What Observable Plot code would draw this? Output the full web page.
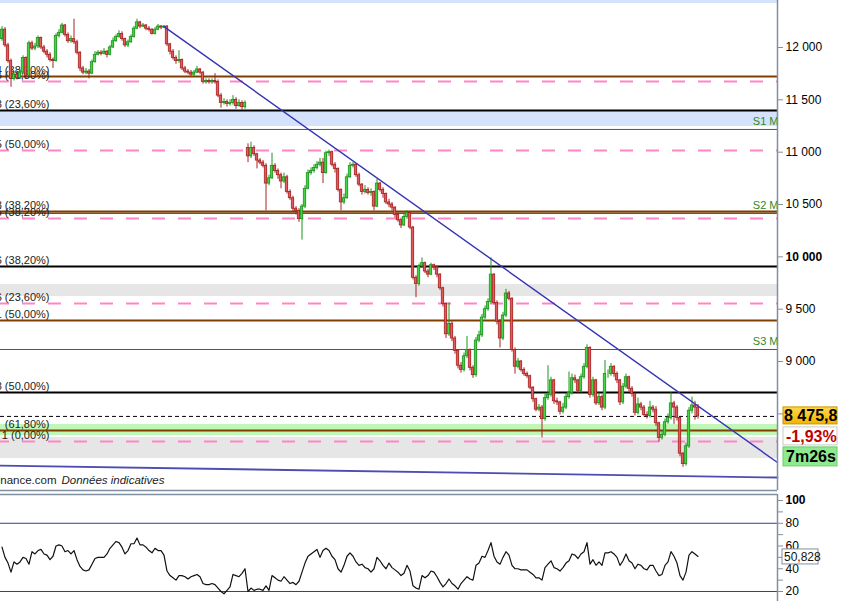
<!DOCTYPE html>
<html><head><meta charset="utf-8">
<script src="https://cdn.jsdelivr.net/npm/d3@7"></script>
<script src="https://cdn.jsdelivr.net/npm/@observablehq/plot@0.6"></script>
<style>
html,body{margin:0;padding:0;background:#fff;overflow:hidden}
#wrap{position:relative;width:843px;height:601px;overflow:hidden;background:#fff}
#wrap svg{display:block}
</style></head><body><div id="wrap"></div>
<script>
// ---- candle data (one candle per slot, open = previous close unless listed) ----
const closes = [
12170,12020,11870,11700,11740,11710,11760,11900,11730,12040,
11990,12010,12090,12000,11960,11930,11880,11870,12110,12140,
12210,12120,12060,12080,12050,11950,11800,11760,11770,11750,
11860,11930,11950,11940,11960,11930,12000,12060,12100,12130,
12080,12020,12050,12100,12180,12240,12200,12210,12180,12170,
12130,12170,12200,12190,12200,12030,11960,11900,11870,11880,
11800,11770,11760,11740,11760,11790,11760,11670,11680,11670,
11680,11670,11540,11470,11480,11460,11470,11500,11440,11470,
11430,11470,10960,11040,10980,10920,10900,10870,10700,10750,
10870,10820,10780,10720,10760,10620,10560,10460,10440,10360,
10480,10650,10800,10820,10850,10880,10900,10800,10990,11000,
10880,10840,10640,10520,10560,10760,10870,10880,10780,10690,
10620,10640,10610,10620,10480,10700,10640,10600,10520,10500,
10470,10400,10350,10300,10380,10420,10280,9800,9740,9910,
9940,9860,9830,9920,9900,9830,9700,9550,9260,9360,
9220,9100,8960,8920,9050,9110,8940,8870,9200,9250,
9420,9500,9570,9830,9560,9380,9220,9440,9650,9600,
9110,8950,9000,8920,8880,8860,8750,8640,8540,8560,
8450,8650,8680,8820,8620,8610,8520,8560,8660,8700,
8840,8820,8720,8850,8950,9130,8680,8820,8600,8660,
8560,8880,8880,8950,8880,8820,8610,8760,8850,8740,
8690,8510,8590,8560,8490,8480,8560,8540,8410,8270,
8300,8420,8460,8600,8560,8460,8120,8020,8190,8530,
8580,8560,8475.8];
const highs = [
12200,12190,12040,11890,11770,11760,11790,11920,11910,12060,
12060,12040,12110,12100,12020,11980,11950,11900,12130,12170,
12230,12220,12140,12110,12270,12070,11960,11820,11800,11790,
11880,11960,11970,11970,11990,11970,12020,12090,12120,12160,
12150,12090,12070,12120,12200,12270,12250,12230,12220,12200,
12180,12190,12220,12210,12210,12210,12040,11980,11920,11970,
11890,11820,11790,11780,11780,11820,11800,11770,11700,11700,
11700,11750,11690,11560,11510,11500,11500,11540,11520,11500,
11490,11490,11080,11095,11060,10990,10940,10920,10890,10780,
10990,10890,10840,10800,10800,10780,10640,10580,10480,10460,
10500,10680,10830,10850,10880,10910,10940,10940,11010,11020,
11010,10900,10850,10650,10600,10790,10900,10900,10890,10800,
10700,10680,10660,10650,10630,10740,10710,10660,10610,10550,
10520,10480,10420,10370,10410,10440,10430,10290,9820,9930,
9990,9950,9880,9940,9930,9910,9840,9710,9560,9560,
9380,9240,9110,8990,9080,9240,9120,8960,9230,9290,
9450,9530,9600,9990,9840,9580,9400,9470,9690,9670,
9610,9130,9030,9010,8940,8900,8870,8760,8650,8590,
8580,8690,8960,8850,8830,8650,8620,8600,8690,8900,
8880,8870,8830,8880,8980,9160,9140,8850,8830,8700,
8680,9010,8920,8980,8960,8900,8830,8790,8880,8860,
8760,8700,8650,8610,8580,8520,8620,8580,8570,8420,
8340,8450,8500,8700,8620,8580,8470,8130,8220,8560,
8660,8620,8590];
const lows = [
12060,12000,11850,11620,11680,11690,11700,11740,11700,11720,
11970,11970,11990,11980,11940,11900,11860,11800,11860,12090,
12130,12100,12040,12040,12030,11930,11770,11740,11740,11700,
11740,11850,11920,11920,11930,11900,11920,11990,12050,12090,
12060,12000,12000,12040,12090,12170,12180,12190,12160,12150,
12120,12120,12160,12170,12180,12010,11930,11880,11840,11850,
11780,11750,11740,11720,11720,11750,11740,11650,11650,11650,
11650,11650,11520,11420,11450,11430,11440,11450,11410,11430,
11400,11410,10900,10940,10960,10840,10880,10850,10440,10680,
10740,10800,10740,10650,10700,10600,10540,10430,10400,10330,
10160,10460,10640,10780,10800,10830,10860,10700,10790,10960,
10860,10800,10620,10440,10500,10550,10750,10850,10760,10670,
10590,10600,10590,10580,10440,10470,10620,10560,10500,10470,
10440,10370,10330,10270,10290,10360,10260,9780,9610,9720,
9890,9840,9800,9820,9870,9800,9680,9520,9220,9240,
9190,9070,8930,8890,8900,9030,8910,8840,8850,9180,
9230,9400,9480,9550,9540,9350,9130,9200,9420,9580,
9090,8880,8930,8900,8860,8840,8730,8610,8520,8520,
8270,8430,8630,8660,8590,8580,8490,8500,8540,8640,
8680,8790,8690,8700,8830,8930,8650,8660,8580,8580,
8530,8540,8840,8860,8850,8790,8580,8590,8740,8710,
8660,8480,8490,8530,8470,8450,8460,8510,8380,8230,
8250,8280,8400,8440,8400,8430,8090,7990,8000,8170,
8500,8440,8450];
const gapOpens = {0: 12080, 82: 11040};

// ---- RSI ----
const rsi = [
59,50,45,37,46,44,46,50,49,44,
55,53,56,57,53,52,48,51,60,61,
60,55,56,53,56,48,42,39,38,39,
44,49,50,50,50,53,58,61,64,63,
59,53,56,62,62,67,61,61,59,56,
54,58,56,56,52,38,34,32,30,34,
34,33,31,33,34,35,33,27,26,26,
27,26,23,20,18,21,24,35,34,33,
36,40,20,23,21,22,22,21,25,21,
34,32,30,29,33,30,27,28,26,29,
37,45,51,53,55,57,50,56,58,56,
51,48,40,37,43,51,54,51,46,43,
44,41,40,37,40,50,47,43,40,45,
41,39,37,34,36,43,38,25,23,22,
34,32,34,38,37,33,28,24,27,31,
27,25,22,27,30,33,31,30,43,45,
51,50,56,63,51,46,44,50,55,52,
43,40,40,39,39,39,37,35,32,32,
30,41,44,47,41,40,38,41,45,47,
53,52,49,53,55,63,44,48,43,46,
43,54,54,55,53,50,43,47,53,47,
45,40,44,43,40,39,43,43,38,34,
35,43,46,55,51,45,34,30,37,52,
55,53,50.828];

// ---- levels, zones, trendlines ----
const levelPrices = [11723, 11675, 11398, 11217, 11016, 10433, 10414, 10366, 9908, 9554, 9392, 9115, 8704, 8341, 8236];
const levelKinds  = ["fibo","dash","black","pivot","dash","fibo","pivot","dash","black","dash","fibo","pivot","black","fibo","dash"];
const levelLabels = ["4 (38,20%)","5 (61,80%)","8 (23,60%)","S1 M","5 (50,00%)","8 (38,20%)","S2 M","5 (38,20%)","6 (38,20%)","6 (23,60%)","1 (50,00%)","S3 M","8 (50,00%)","(61,80%)","1 (0,00%)"];
const zoneLow  = [12420, 11245, 9621, 8293, 8073];
const zoneHigh = [12480, 11390, 9736, 8398, 8274];
const zoneKind = ["blue","blue","gray","green","gray"];
const resistanceLine = [{i: 54, p: 12200}, {i: 258.5, p: 8035}];
const supportLine = [{i: -0.5, p: 8006}, {i: 258.5, p: 7892}];
const priceTicks = [8500, 9000, 9500, 10000, 10500, 11000, 11500, 12000];
const hiddenPriceTick = 8500; // covered by the last-price box in the source
const boldPriceTick = 10000;
const rsiTicks = [20, 40, 60, 80, 100];
const rsiMinorTicks = [30, 50, 70, 90];
const rsiBands = [20, 80];
const lastPrice = 8475.8;
const lastPriceText = "8 475,8";
const changeText = "-1,93%";
const timerText = "7m26s";
const lastRsiText = "50,828";
const footerSource = "Finance.com";
const footerNote = "Données indicatives";

// ---- scales ----
const xDomain = [-0.5, 258.5];
const priceDomain = [7768, 12449];
const rsiDomain = [11.2, 105.3];

const candles = closes.map((c, i) => ({
  i, c, o: gapOpens[i] !== undefined ? gapOpens[i] : closes[i - 1], h: highs[i], l: lows[i]
}));
const levels = levelPrices.map((p, k) => ({p, kind: levelKinds[k], label: levelLabels[k]}));
const zoneColors = {blue: "#d5e2fb", gray: "#e6e6e6", green: "#bff7b7"};
const zones = zoneLow.map((lo, k) => ({lo, hi: zoneHigh[k], color: zoneColors[zoneKind[k]]}));
const up = d => d.c >= d.o;

const fmt = d3.formatLocale({decimal: ",", thousands: " ", grouping: [3], currency: ["", ""]}).format(",");
const font = "'Liberation Sans', Arial, sans-serif";
const axisGray = "#8090a0";

const main = Plot.plot({
  width: 843, height: 491,
  marginTop: 0, marginBottom: 1, marginLeft: 0, marginRight: 66,
  x: {domain: xDomain, axis: null},
  y: {domain: priceDomain},
  color: {type: "identity"},
  style: {fontFamily: font, fontSize: "11px", background: "#fff", overflow: "visible"},
  marks: [
    Plot.rect(zones, {x1: xDomain[0], x2: xDomain[1], y1: "lo", y2: "hi", fill: "color"}),
    Plot.ruleY(levels.filter(d => d.kind === "pivot"), {y: "p", stroke: "#1f7a1f", strokeWidth: 1}),
    Plot.ruleY(levels.filter(d => d.kind === "fibo"), {y: "p", stroke: "#7e3f00", strokeWidth: 2.2}),
    Plot.ruleY(levels.filter(d => d.kind === "black"), {y: "p", stroke: "#000", strokeWidth: 2.2}),
    Plot.ruleY(levels.filter(d => d.kind === "dash"), {y: "p", stroke: "#ff85c8", strokeWidth: 2, strokeDasharray: "13,13", strokeDashoffset: 4}),
    Plot.ruleY([lastPrice], {stroke: "#000", strokeWidth: 1, strokeDasharray: "4,3"}),
    Plot.text(levels.filter(d => d.kind !== "pivot"), {y: "p", text: "label", frameAnchor: "left", textAnchor: "end", dx: 49, dy: -6, fill: "#222", fontSize: 11}),
    Plot.text(levels.filter(d => d.kind === "pivot"), {y: "p", text: "label", frameAnchor: "right", textAnchor: "end", dx: 1, dy: -8, fill: "#2a8a2a", fontSize: 11}),
    Plot.ruleX(candles, {x: "i", y1: "l", y2: "h", stroke: d => up(d) ? "#1c931c" : "#a82222", strokeWidth: 1}),
    Plot.rect(candles, {x1: d => d.i - 0.4, x2: d => d.i + 0.4, y1: d => Math.min(d.o, d.c), y2: d => Math.max(d.o, d.c),
      fill: d => up(d) ? "#46d446" : "#de5c5c", stroke: d => up(d) ? "#1c931c" : "#a82222", strokeWidth: 0.8}),
    Plot.line(resistanceLine, {x: "i", y: "p", stroke: "#3535b5", strokeWidth: 1.4}),
    Plot.line(supportLine, {x: "i", y: "p", stroke: "#3a3aa8", strokeWidth: 1.8, strokeOpacity: 0.9}),
    Plot.text([footerSource], {frameAnchor: "bottom-left", textAnchor: "end", dx: 56, dy: -7, fill: "#222", fontSize: 11.5}),
    Plot.text([footerNote], {frameAnchor: "bottom-left", textAnchor: "start", dx: 61, dy: -7, fill: "#222", fontSize: 11.5, fontStyle: "italic"}),
    Plot.ruleY([priceDomain[0]], {stroke: axisGray, strokeWidth: 1.5}),
    Plot.ruleX([xDomain[1]], {stroke: axisGray, strokeWidth: 1.5}),
    Plot.axisY(priceTicks, {anchor: "right", tickFormat: d => d === hiddenPriceTick ? "" : fmt(d), tickSize: 5, tickPadding: 3, fontSize: 12, stroke: axisGray, fill: "#000"})
  ]
});

const rsiChart = Plot.plot({
  width: 843, height: 110,
  marginTop: 3, marginBottom: 0, marginLeft: 0, marginRight: 66,
  x: {domain: xDomain, axis: null},
  y: {domain: rsiDomain},
  style: {fontFamily: font, fontSize: "12px", background: "#fff", overflow: "visible"},
  marks: [
    Plot.ruleY(rsiBands, {stroke: "#2e3ca8", strokeWidth: 1}),
    Plot.lineY(rsi, {x: (d, i) => i, y: d => d, stroke: "#111", strokeWidth: 1.2}),
    Plot.ruleY([rsiDomain[1]], {stroke: axisGray, strokeWidth: 1.5}),
    Plot.ruleX([xDomain[1]], {stroke: axisGray, strokeWidth: 1.5}),
    Plot.axisY(rsiMinorTicks, {anchor: "right", tickFormat: () => "", tickSize: 5, stroke: axisGray}),
    Plot.axisY(rsiTicks, {anchor: "right", tickSize: 5, tickPadding: 3, fontSize: 12, stroke: axisGray, fill: "#000"})
  ]
});

const wrap = document.getElementById("wrap");
wrap.appendChild(main);
wrap.appendChild(rsiChart);

// bold reference ticks
d3.select(main).selectAll("text").filter(function() { return this.textContent === fmt(boldPriceTick); }).attr("font-weight", "bold");
d3.select(rsiChart).selectAll("text").filter(function() { return this.textContent === "100"; }).attr("font-weight", "bold");

// price boxes positioned by the y scale
const sx = main.scale("x"), sy = main.scale("y");
const bx = sx.apply(xDomain[1]) + 6;
const yc = sy.apply(lastPrice);
const svgM = d3.select(main);
const defs = svgM.append("defs");
const grad = defs.append("linearGradient").attr("id", "gold").attr("x1", 0).attr("y1", 0).attr("x2", 0).attr("y2", 1);
grad.append("stop").attr("offset", "0%").attr("stop-color", "#ffd84a");
grad.append("stop").attr("offset", "100%").attr("stop-color", "#f2b400");
const boxes = [
  {y: yc - 9, h: 17, fill: "url(#gold)", stroke: "#c99600", text: lastPriceText, color: "#000", tx: 1},
  {y: yc + 11, h: 18, fill: "#fff", stroke: "#c8c8c8", text: changeText, color: "#c00000", tx: 3},
  {y: yc + 31, h: 19, fill: "#8fe98f", stroke: "#6ccc6c", text: timerText, color: "#000", tx: 3}
];
boxes.forEach(b => {
  svgM.append("rect").attr("x", bx).attr("y", b.y).attr("width", 54).attr("height", b.h)
    .attr("fill", b.fill).attr("stroke", b.stroke).attr("stroke-width", 1);
  svgM.append("text").attr("x", bx + b.tx).attr("y", b.y + b.h / 2).attr("dy", "0.36em")
    .attr("text-anchor", "start")
    .attr("font-family", font).attr("font-size", 16).attr("font-weight", "bold").attr("fill", b.color).text(b.text);
});

const ry = rsiChart.scale("y");
const rc = ry.apply(rsi[rsi.length - 1]);
const svgR = d3.select(rsiChart);
svgR.append("rect").attr("x", bx - 1).attr("y", rc - 7).attr("width", 36).attr("height", 15)
  .attr("fill", "#fff").attr("stroke", axisGray).attr("stroke-width", 1);
svgR.append("text").attr("x", bx + 1).attr("y", rc + 0.5).attr("dy", "0.36em")
  .attr("text-anchor", "start")
  .attr("font-family", font).attr("font-size", 12).attr("fill", "#111").text(lastRsiText);
</script></body></html>
